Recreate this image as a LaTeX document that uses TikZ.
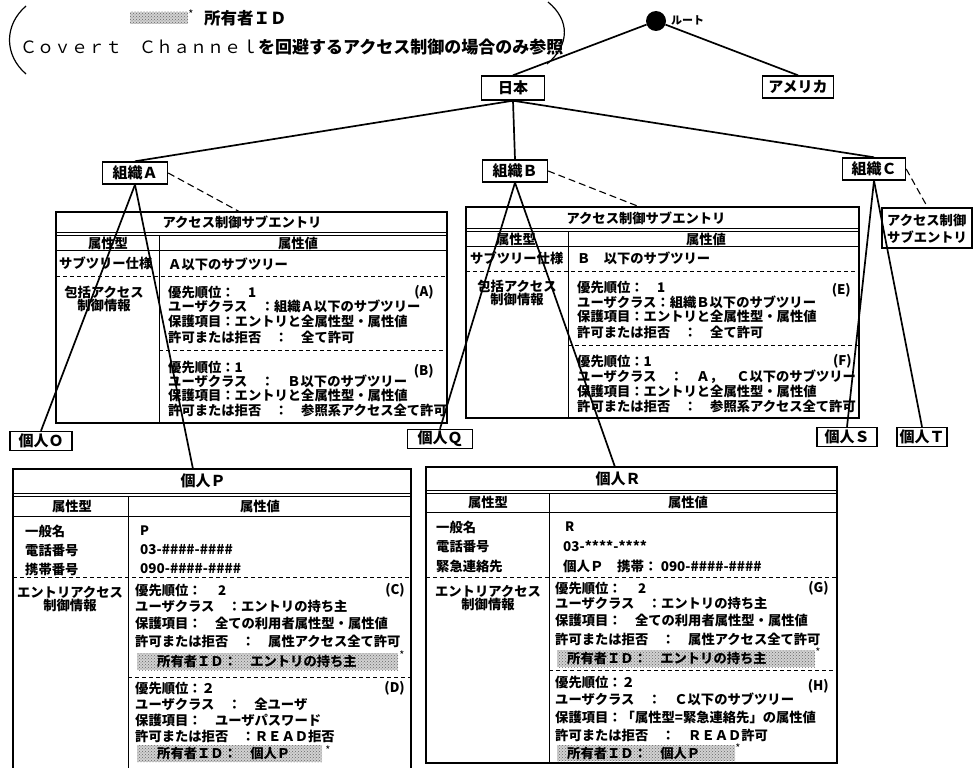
\documentclass[tikz,border=0pt]{standalone}
\usepackage{fontspec}
\setmainfont{Noto Sans CJK JP}
\newcommand{\jm}{\bfseries}
\usetikzlibrary{patterns}
\newcommand{\jfs}[1]{\fontsize{#1}{#1}\selectfont}
\begin{document}
\begin{tikzpicture}[x=1pt,y=-1pt,
  every node/.style={inner sep=0pt},
  jt/.style={anchor=west,font=\jm\jfs{13.3}},
  jc/.style={anchor=center,font=\jm\jfs{13.3},align=center},
  jb/.style={anchor=center,font=\jfs{13.3}\bfseries},
  ph/.style={anchor=west,font=\jfs{13.5}\bfseries},
  tag/.style={anchor=east,font=\jm\jfs{13.3}},
  orgbox/.style={draw,fill=white,line width=1.4pt,minimum width=65pt,minimum height=22pt,font=\jm\jfs{15}},
  leafbox/.style={draw,fill=white,line width=1.4pt,minimum height=19pt,font=\jm\jfs{15}},
  tree/.style={line width=1.7pt},
  subln/.style={line width=1.1pt,dash pattern=on 7pt off 4pt},
  frame/.style={line width=1.3pt},
  inner/.style={line width=0.9pt},
  dsh/.style={line width=0.9pt,dash pattern=on 4pt off 3pt},
  hatch/.style={fill=black!18,postaction={pattern=crosshatch dots,pattern color=black!60}},
  starmark/.style={font=\jfs{11}},
]
\useasboundingbox (0,0) rectangle (975,768);
\fill[white] (0,0) rectangle (975,768);

% ---------- legend ----------
\fill[hatch] (130,12) rectangle (188,24);
\node[starmark] (lgstar) at (191,14) {*};
\node[anchor=west,font=\jm\jfs{16.5}] (lg1) at (204,18) {所有者ＩＤ};
\node[anchor=west,font=\jfs{17}] (lg2) at (20,47) {Ｃｏｖｅｒｔ　Ｃｈａｎｎｅｌ{\bfseries を回避するアクセス制御の場合のみ参照}};
\draw[line width=1.2pt] (26,6) .. controls (4,25) and (4,55) .. (26,74);
\draw[line width=1.2pt] (548,2) .. controls (570,20) and (570,45) .. (547,64);

% ---------- subentry table A ----------
\draw[frame] (56,212) rectangle (447,423);
\draw[inner] (56,232) -- (447,232);
\draw[inner] (56,235) -- (447,235);
\draw[inner] (56,250) -- (447,250);
\draw[inner] (159,235) -- (159,423);
\draw[dsh] (56,276) -- (447,276);
\draw[dsh] (159,350) -- (447,350);
\coordinate (aTop) at (240,212);
\node[jc] (aT) at (242,222) {アクセス制御サブエントリ};
\node[jb] (aH1) at (108,243) {属性型};
\node[jb] (aH2) at (298,243) {属性値};
\node[jt] (aL1) at (59,263) {サブツリー仕様};
\node[jc] (aL2) at (104,299) {包括アクセス\\制御情報};
\node[jt] (aV0) at (168,264) {Ａ以下のサブツリー};
\node[jt] (aA1) at (168,292) {優先順位：　1};
\node[jt] (aA2) at (168,306) {ユーザクラス　：組織Ａ以下のサブツリー};
\node[jt] (aA3) at (168,321) {保護項目：エントリと全属性型・属性値};
\node[jt] (aA4) at (168,337) {許可または拒否　：　全て許可};
\node[tag] (aAt) at (434,292) {(A)};
\node[jt] (aB1) at (168,367) {優先順位：1};
\node[jt] (aB2) at (168,381) {ユーザクラス　：　Ｂ以下のサブツリー};
\node[jt] (aB3) at (168,395) {保護項目：エントリと全属性型・属性値};
\node[jt] (aB4) at (168,410) {許可または拒否　：　参照系アクセス全て許可};
\node[tag] (aBt) at (434,371) {(B)};

% ---------- subentry table B ----------
\draw[frame] (466,207) rectangle (859,418);
\draw[inner] (466,228) -- (859,228);
\draw[inner] (466,231) -- (859,231);
\draw[inner] (466,246) -- (859,246);
\draw[inner] (568,231) -- (568,418);
\draw[dsh] (466,271) -- (859,271);
\draw[dsh] (568,345) -- (859,345);
\coordinate (bTop) at (640,207);
\node[jc] (bT) at (646,218) {アクセス制御サブエントリ};
\node[jb] (bH1) at (516,239) {属性型};
\node[jb] (bH2) at (706,239) {属性値};
\node[jt] (bL1) at (470,258) {サブツリー仕様};
\node[jc] (bL2) at (517,293) {包括アクセス\\制御情報};
\node[jt] (bV0) at (577,258) {Ｂ　以下のサブツリー};
\node[jt] (bE1) at (577,287) {優先順位：　1};
\node[jt] (bE2) at (577,302) {ユーザクラス：組織Ｂ以下のサブツリー};
\node[jt] (bE3) at (577,316) {保護項目：エントリと全属性型・属性値};
\node[jt] (bE4) at (577,332) {許可または拒否　：　全て許可};
\node[tag] (bEt) at (851,290) {(E)};
\node[jt] (bF1) at (577,361) {優先順位：1};
\node[jt] (bF2) at (577,377) {ユーザクラス　：　Ａ，　Ｃ以下のサブツリー};
\node[jt] (bF3) at (577,391) {保護項目：エントリと全属性型・属性値};
\node[jt] (bF4) at (577,406) {許可または拒否　：　参照系アクセス全て許可};
\node[tag] (bFt) at (852,361) {(F)};

% ---------- subentry box C ----------
\draw[frame] (882,208) rectangle (972,248);
\coordinate (cTop) at (928,208);
\node[jt] (cS1) at (887,220) {アクセス制御};
\node[jt] (cS2) at (887,237) {サブエントリ};

% ---------- individual P ----------
\draw[frame] (13,768) -- (13,469) -- (411,469) -- (411,768);
\draw[inner] (13,493) -- (411,493);
\draw[inner] (13,496) -- (411,496);
\draw[inner] (13,516) -- (411,516);
\draw[inner] (128,496) -- (128,768);
\draw[dsh] (13,577) -- (411,577);
\draw[dsh] (128,677) -- (411,677);
\coordinate (pTop) at (193,469);
\node[font=\jm\jfs{15}] (pT) at (203,481) {個人Ｐ};
\node[jb] (pH1) at (72,506) {属性型};
\node[jb] (pH2) at (260,506) {属性値};
\node[jt,font=\jfs{13.3}\bfseries] (pL1) at (25,531) {一般名};
\node[jt,font=\jfs{13.3}\bfseries] (pL2) at (25,550) {電話番号};
\node[jt,font=\jfs{13.3}\bfseries] (pL3) at (25,569) {携帯番号};
\node[ph,font=\jfs{13}\bfseries] (pV1) at (140,531) {P};
\node[ph] (pV2) at (140,550) {03-\#\#\#\#-\#\#\#\#};
\node[ph] (pV3) at (140,569) {090-\#\#\#\#-\#\#\#\#};
\node[jc] (pL4) at (70,599) {エントリアクセス\\制御情報};
\node[jt] (pC1) at (135,590) {優先順位：　 2};
\node[jt] (pC2) at (135,606) {ユーザクラス　：エントリの持ち主};
\node[jt] (pC3) at (135,623) {保護項目：　全ての利用者属性型・属性値};
\node[jt] (pC4) at (135,641) {許可または拒否　：　属性アクセス全て許可};
\fill[hatch] (137,653) rectangle (398,670);
\node[jt] (pC5) at (157,661) {所有者ＩＤ：　エントリの持ち主};
\node[starmark] (pC5s) at (402,655) {*};
\node[tag] (pCt) at (405,590) {(C)};
\node[jt] (pD1) at (135,688) {優先順位：２};
\node[jt] (pD2) at (135,704) {ユーザクラス　：　全ユーザ};
\node[jt] (pD3) at (135,720) {保護項目：　ユーザパスワード};
\node[jt] (pD4) at (135,736) {許可または拒否　：ＲＥＡＤ拒否};
\fill[hatch] (137,745) rectangle (322,762);
\node[jt] (pD5) at (157,753) {所有者ＩＤ：　個人Ｐ};
\node[starmark] (pD5s) at (328,750) {*};
\node[tag] (pDt) at (405,688) {(D)};

% ---------- individual R ----------
\draw[frame] (426,467) rectangle (837,763);
\draw[inner] (426,490) -- (837,490);
\draw[inner] (426,493) -- (837,493);
\draw[inner] (426,512) -- (837,512);
\draw[inner] (549,493) -- (549,763);
\draw[dsh] (426,577) -- (837,577);
\draw[dsh] (549,670) -- (837,670);
\coordinate (rTop) at (615,467);
\node[font=\jm\jfs{15}] (rT) at (618,479) {個人Ｒ};
\node[jb] (rH1) at (488,502) {属性型};
\node[jb] (rH2) at (688,502) {属性値};
\node[jt,font=\jfs{13.3}\bfseries] (rL1) at (436,527) {一般名};
\node[jt,font=\jfs{13.3}\bfseries] (rL2) at (436,546) {電話番号};
\node[jt,font=\jfs{13.3}\bfseries] (rL3) at (436,566) {緊急連絡先};
\node[ph,font=\jfs{13}\bfseries] (rV1) at (565,527) {R};
\node[ph] (rV2) at (563,546) {03-****-****};
\node[ph] (rV3) at (563,566) {個人Ｐ　携帯：\ 090-\#\#\#\#-\#\#\#\#};
\node[jc] (rL4) at (488,598) {エントリアクセス\\制御情報};
\node[jt] (rG1) at (555,588) {優先順位：　 2};
\node[jt] (rG2) at (555,603) {ユーザクラス　：エントリの持ち主};
\node[jt] (rG3) at (555,620) {保護項目：　全ての利用者属性型・属性値};
\node[jt] (rG4) at (555,639) {許可または拒否　：　属性アクセス全て許可};
\fill[hatch] (557,650) rectangle (815,667);
\node[jt] (rG5) at (567,658) {所有者ＩＤ：　エントリの持ち主};
\node[starmark] (rG5s) at (818,652) {*};
\node[tag] (rGt) at (829,588) {(G)};
\node[jt] (rH1t) at (555,682) {優先順位：２};
\node[jt] (rH2t) at (555,699) {ユーザクラス　：　Ｃ以下のサブツリー};
\node[jt] (rH3t) at (555,717) {保護項目：「属性型=緊急連絡先」の属性値};
\node[jt] (rH4t) at (555,735) {許可または拒否　：　ＲＥＡＤ許可};
\fill[hatch] (557,745) rectangle (735,761);
\node[jt] (rH5t) at (567,753) {所有者ＩＤ：　個人Ｐ};
\node[starmark] (rH5s) at (738,748) {*};
\node[tag] (rHt) at (829,686) {(H)};

% ---------- tree nodes ----------
\node[circle,fill=black,minimum size=20pt] (root) at (656,21) {};
\node[anchor=west,font=\jm\jfs{11}] (rootlbl) at (671,20) {ルート};
\node[orgbox,minimum width=63pt,minimum height=24pt] (nihon) at (513,88) {日本};
\node[orgbox,minimum width=71pt,minimum height=22pt] (usa) at (798,87) {アメリカ};
\node[orgbox] (orgA) at (135,173) {組織Ａ};
\node[orgbox] (orgB) at (515,171) {組織Ｂ};
\node[orgbox,minimum width=63pt] (orgC) at (874,169) {組織Ｃ};
\node[leafbox,minimum width=62pt] (indO) at (41,441) {個人Ｏ};
\node[leafbox,minimum width=65pt] (indQ) at (440,439) {個人Ｑ};
\node[leafbox,minimum width=60pt] (indS) at (847,437) {個人Ｓ};
\node[leafbox,minimum width=50pt] (indT) at (922,437) {個人Ｔ};

% ---------- connectors ----------
\draw[tree] (root) -- (nihon.north);
\draw[tree] (root) -- (usa.north);
\draw[tree] (nihon.south) -- (orgA.north);
\draw[tree] (nihon.south) -- (orgB.north);
\draw[tree] (nihon.south) -- (orgC.north);
\draw[tree] (orgA.south) -- (indO.north);
\draw[tree] (orgA.south) -- (pTop);
\draw[tree] (orgB.south) -- (indQ.north);
\draw[tree] (orgB.south) -- (rTop);
\draw[tree] (orgC.south) -- (indS.north);
\draw[tree] (orgC.south) -- (indT.north);
\draw[subln] (orgA.east) -- (aTop);
\draw[subln] (orgB.east) -- (bTop);
\draw[subln] (orgC.east) -- (cTop);

% redraw boxes on top of the connectors
\node[orgbox,minimum width=63pt,minimum height=24pt] (nihon2) at (nihon) {日本};
\node[orgbox,minimum width=71pt,minimum height=22pt] (usa2) at (usa) {アメリカ};
\node[orgbox] (orgA2) at (orgA) {組織Ａ};
\node[orgbox] (orgB2) at (orgB) {組織Ｂ};
\node[orgbox,minimum width=63pt] (orgC2) at (orgC) {組織Ｃ};
\node[leafbox,minimum width=62pt] (indO2) at (indO) {個人Ｏ};
\node[leafbox,minimum width=65pt] (indQ2) at (indQ) {個人Ｑ};
\node[leafbox,minimum width=60pt] (indS2) at (indS) {個人Ｓ};
\node[leafbox,minimum width=50pt] (indT2) at (indT) {個人Ｔ};
\end{tikzpicture}
\end{document}
